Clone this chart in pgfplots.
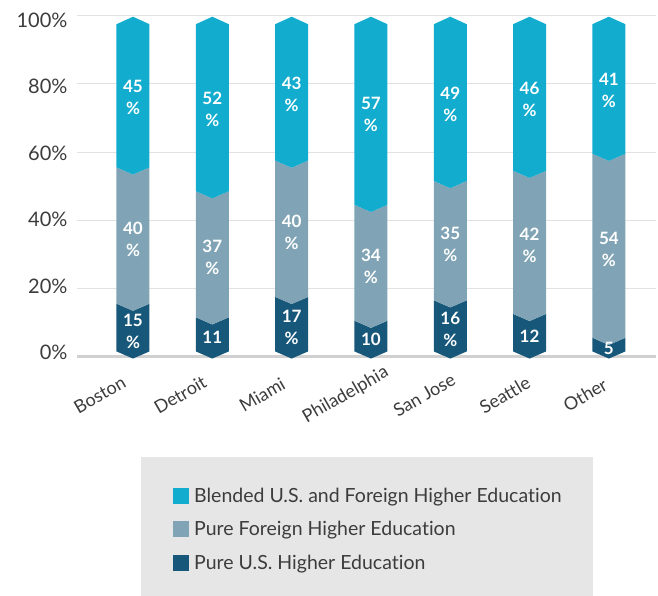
\documentclass[border=0pt]{standalone}
\usepackage{fontspec}
\setmainfont{Lato}[Ligatures=NoCommon]
\usepackage{pgfplots}
\pgfplotsset{compat=1.18}
\definecolor{cTop}{HTML}{12ACCE}
\definecolor{cMid}{HTML}{80A4B5}
\definecolor{cBot}{HTML}{17587A}
\definecolor{cText}{HTML}{3C3C3C}
\definecolor{cGrid}{HTML}{E2E2E2}
\definecolor{cZero}{HTML}{D0D0D0}
\definecolor{cLeg}{HTML}{E6E6E6}
% segment between boundary levels #2 and #3 (chevron shaped), at x=#1, colour #4
\newcommand\seg[4]{%
 \pgfmathsetmacro\xa{#1-0.208}%
 \pgfmathsetmacro\xb{#1+0.208}%
 \pgfmathsetmacro\la{#2+0.5}%
 \pgfmathsetmacro\lb{#2-1.6}%
 \pgfmathsetmacro\ha{#3+0.5}%
 \pgfmathsetmacro\hb{#3-1.6}%
 \edef\segtmp{\noexpand\addplot[fill=#4, draw=none, forget plot] coordinates {(\xa,\la) (#1,\lb) (\xb,\la) (\xb,\ha) (#1,\hb) (\xa,\ha)} -- cycle;}%
 \segtmp}
% top segment from boundary #2 to the pointed top
\newcommand\topseg[3]{%
 \pgfmathsetmacro\xa{#1-0.208}%
 \pgfmathsetmacro\xb{#1+0.208}%
 \pgfmathsetmacro\la{#2+0.5}%
 \pgfmathsetmacro\lb{#2-1.6}%
 \edef\segtmp{\noexpand\addplot[fill=#3, draw=none, forget plot] coordinates {(\xa,\la) (#1,\lb) (\xb,\la) (\xb,97.5) (#1,99.7) (\xa,97.5)} -- cycle;}%
 \segtmp}
\newcommand\yl[2]{\raisebox{#1}[0pt][0pt]{#2}}
\begin{document}
\begin{tikzpicture}
\begin{axis}[
  scale only axis,
  width=579pt, height=340.8pt,
  xmin=-0.706, xmax=6.594,
  ymin=0, ymax=100,
  clip=false,
  axis line style={draw=none},
  major tick length=0pt,
  tick style={draw=none},
  xtick={-0.42,0.595,1.629,2.682,3.672,4.687,5.702},
  xticklabels={Boston,Detroit,Miami,Philadelphia,San Jose,Seattle,Other},
  xticklabel style={yshift=-38.5pt, rotate=30, anchor=center, font=\fontsize{18}{20}\selectfont, text=cText},
  ytick={20,40,60,80,100},
  yticklabels={\yl{-4.7pt}{20\%},\yl{-6.3pt}{40\%},\yl{-8pt}{60\%},\yl{-9.9pt}{80\%},\yl{-11.3pt}{100\%}},
  extra y ticks={0},
  extra y tick labels={\yl{-3pt}{0\%}},
  extra y tick style={grid style={draw=cZero, line width=2.2pt}},
  yticklabel style={xshift=-6pt, font=\fontsize{20}{22}\selectfont, text=cText},
  ymajorgrids,
  grid style={draw=cGrid, line width=1pt},
  legend cell align=left,
  legend style={at={(axis description cs:0.1658,-0.377)}, anchor=north west,
    fill=none, draw=none, inner xsep=0pt, inner ysep=0pt,
    font=\fontsize{19.5}{22}\selectfont, text=cText, row sep=11.5pt,
    nodes={inner sep=3pt},
    /tikz/every odd column/.append style={column sep=2pt}},
  legend image code/.code={\fill[#1] (0pt,-8pt) rectangle (16pt,8pt);},
]
% legend background box
\fill[cLeg] (axis description cs:0.1105,-0.2949) rectangle (axis description cs:0.891,-0.72);
% Boston 15 / 40 / 45
\seg{0}{1}{15}{cBot}\seg{0}{15}{55}{cMid}\topseg{0}{55}{cTop}
% Detroit 11 / 37 / 52
\seg{1}{1}{11}{cBot}\seg{1}{11}{48}{cMid}\topseg{1}{48}{cTop}
% Miami 17 / 40 / 43
\seg{2}{1}{17}{cBot}\seg{2}{17}{57}{cMid}\topseg{2}{57}{cTop}
% Philadelphia 10 / 34 / 57
\seg{3}{1}{10}{cBot}\seg{3}{10}{44}{cMid}\topseg{3}{44}{cTop}
% San Jose 16 / 35 / 49
\seg{4}{1}{16}{cBot}\seg{4}{16}{51}{cMid}\topseg{4}{51}{cTop}
% Seattle 12 / 42 / 46
\seg{5}{1}{12}{cBot}\seg{5}{12}{54}{cMid}\topseg{5}{54}{cTop}
% Other 5 / 54 / 41
\seg{6}{1}{5}{cBot}\seg{6}{5}{59}{cMid}\topseg{6}{59}{cTop}
% two-line labels
\addplot[draw=none, mark=none, forget plot, point meta=explicit symbolic,
  nodes near coords={\pgfplotspointmeta\\\%},
  nodes near coords align=center,
  every node near coord/.append style={align=center, text=white, font=\bfseries\fontsize{17}{22}\selectfont, anchor=center}]
  coordinates {
  (0,7.5)[15] (0,34.5)[40] (0,76)[45]
  (1,29)[37] (1,72.5)[52]
  (2,8.5)[17] (2,36.5)[40] (2,77)[43]
  (3,26.5)[34] (3,71)[57]
  (4,8)[16] (4,33)[35] (4,74)[49]
  (5,32.5)[42] (5,75.5)[46]
  (6,31.5)[54] (6,78)[41]
  };
% one-line labels
\addplot[draw=none, mark=none, forget plot, point meta=explicit symbolic,
  nodes near coords={\pgfplotspointmeta},
  nodes near coords align=center,
  every node near coord/.append style={text=white, font=\bfseries\fontsize{17}{22}\selectfont, anchor=center}]
  coordinates {(1,5.5)[11] (3,5)[10] (5,6)[12] (6,2.3)[5]};
\addlegendimage{fill=cTop, draw=none}
\addlegendentry{Blended U.S. and Foreign Higher Education}
\addlegendimage{fill=cMid, draw=none}
\addlegendentry{Pure Foreign Higher Education}
\addlegendimage{fill=cBot, draw=none}
\addlegendentry{Pure U.S. Higher Education}
\coordinate (tl) at (rel axis cs:0,1);
\coordinate (br) at (rel axis cs:1,0);
\end{axis}
\pgfresetboundingbox
\path ([shift={(-77pt,15.7pt)}]tl) rectangle ([shift={(2pt,-238.5pt)}]br);
\end{tikzpicture}
\end{document}
